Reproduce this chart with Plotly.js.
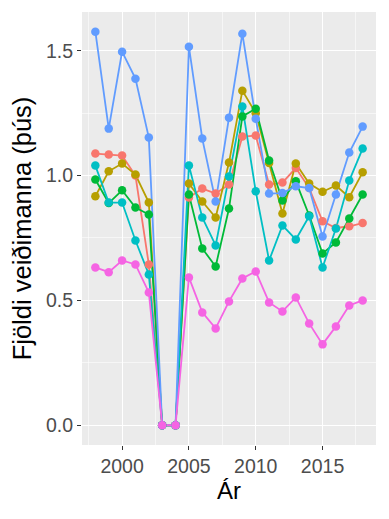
<!DOCTYPE html>
<html>
<head>
<meta charset="utf-8">
<script src="https://cdn.plot.ly/plotly-3.0.1.min.js"></script>
<style>html,body{margin:0;padding:0;background:#fff;}#chart{width:389px;height:519px;}</style>
</head>
<body>
<div id="chart"></div>
<script>
const years = [1998,1999,2000,2001,2002,2003,2004,2005,2006,2007,2008,2009,2010,2011,2012,2013,2014,2015,2016,2017,2018];
const seriesNames = ['Röð 1','Röð 2','Röð 3','Röð 4','Röð 5','Röð 6'];
const s1 = [1.088,1.084,1.080,1.000,0.644,0,0,0.912,0.948,0.928,0.964,1.156,1.160,0.964,0.972,1.030,0.950,0.817,0.790,0.797,0.810];
const s2 = [0.917,1.017,1.048,1.004,0.892,0,0,0.968,0.896,0.832,1.052,1.340,1.250,1.050,0.848,1.048,0.968,0.935,0.960,0.913,1.013];
const s3 = [0.984,0.890,0.941,0.872,0.844,0,0,0.924,0.708,0.636,0.868,1.237,1.268,1.060,0.900,0.977,0.840,0.688,0.732,0.828,0.924];
const s4 = [1.040,0.892,0.892,0.740,0.604,0,0,1.040,0.832,0.720,0.996,1.277,0.937,0.660,0.800,0.744,0.837,0.632,0.788,0.980,1.108];
const s5 = [1.576,1.188,1.496,1.388,1.152,0,0,1.516,1.148,0.896,1.232,1.568,1.228,0.928,0.930,0.957,0.950,0.756,0.924,1.092,1.196];
const s6 = [0.632,0.613,0.660,0.644,0.532,0,0,0.592,0.452,0.388,0.496,0.588,0.616,0.492,0.456,0.512,0.408,0.324,0.396,0.480,0.500];
const xTicks = [2000,2005,2010,2015];
const yTicks = [0,0.5,1,1.5];
const yTickText = ['0.0','0.5','1.0','1.5'];

const colors = ['#F8766D','#B79F00','#00BA38','#00BFC4','#619CFF','#F564E3'];
const allSeries = [s1,s2,s3,s4,s5,s6];
const traces = [];
allSeries.forEach((s,i)=>{
  traces.push({x:years,y:s,type:'scatter',mode:'lines',name:seriesNames[i],
    line:{color:colors[i],width:1.8},showlegend:false,hoverinfo:'skip'});
});
allSeries.forEach((s,i)=>{
  traces.push({x:years,y:s,type:'scatter',mode:'markers',name:seriesNames[i],
    marker:{color:colors[i],size:8.5},showlegend:false});
});

const layout = {
  width:389,height:519,
  margin:{l:82,r:13,t:12,b:74},
  paper_bgcolor:'#FFFFFF',plot_bgcolor:'#EBEBEB',
  font:{family:'"Liberation Sans", Arial, sans-serif',color:'#4D4D4D',size:19.5},
  showlegend:false,
  xaxis:{range:[1997,2019],tickvals:xTicks,ticktext:xTicks.map(String),
    showgrid:true,gridcolor:'#FFFFFF',gridwidth:1.1,zeroline:false,showline:false,
    ticks:'outside',ticklen:4,tickwidth:1.1,tickcolor:'#333333',
    tickfont:{size:19.5,color:'#4D4D4D'},automargin:false,
    minor:{tickvals:[1997.5,2002.5,2007.5,2012.5,2017.5],showgrid:true,gridcolor:'#FFFFFF',gridwidth:0.55,ticks:''},
    title:{text:'Ár',font:{size:24,color:'#000000'},standoff:4}},
  yaxis:{range:[-0.079,1.655],tickvals:yTicks,ticktext:yTickText,
    showgrid:true,gridcolor:'#FFFFFF',gridwidth:1.1,zeroline:false,showline:false,
    ticks:'outside',ticklen:4,tickwidth:1.1,tickcolor:'#333333',
    tickfont:{size:19.5,color:'#4D4D4D'},automargin:false,
    minor:{tickvals:[0.25,0.75,1.25],showgrid:true,gridcolor:'#FFFFFF',gridwidth:0.55,ticks:''},
    title:{text:'Fjöldi veiðimanna (þús)',font:{size:25.5,color:'#000000'},standoff:7}}
};
Plotly.newPlot('chart',traces,layout,{displayModeBar:false,staticPlot:true});
</script>
</body>
</html>
